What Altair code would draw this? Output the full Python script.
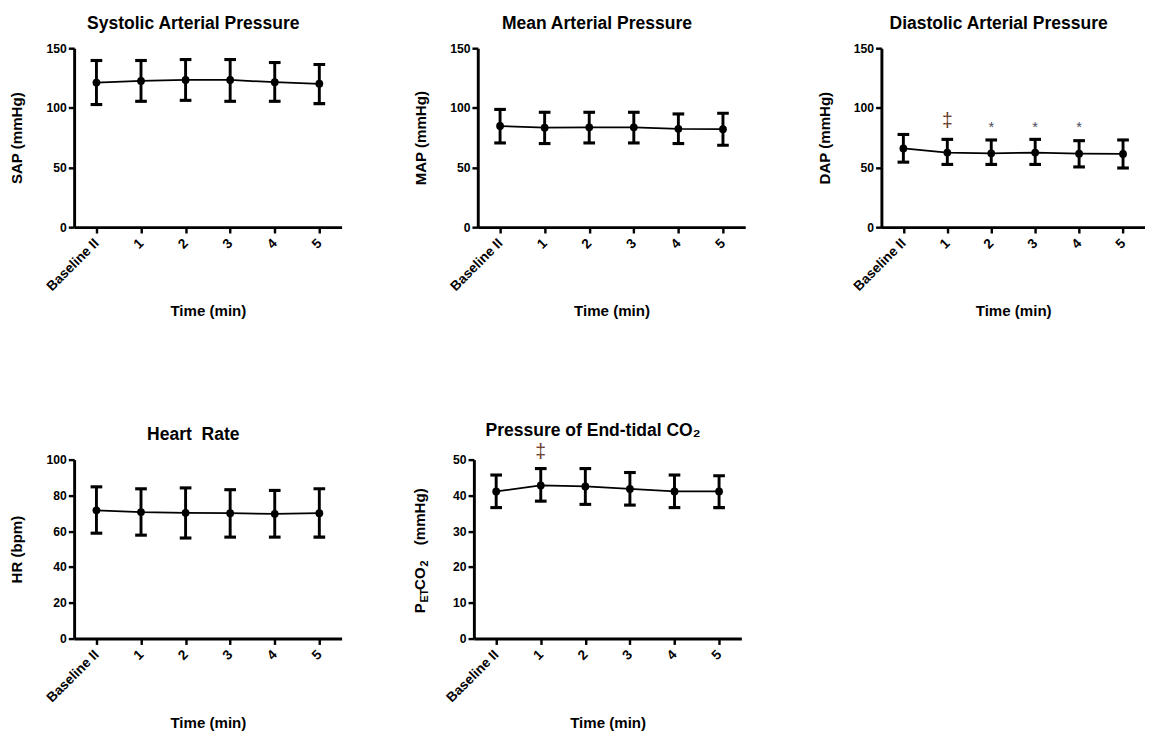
import altair as alt
import pandas as pd

TIME = ["Baseline II", "1", "2", "3", "4", "5"]

SAP_mean = [121.2, 122.6, 123.4, 123.4, 121.5, 120.2]
SAP_upper = [139.7, 139.7, 140.5, 140.5, 138.0, 136.4]
SAP_lower = [102.8, 105.5, 106.3, 105.5, 105.5, 103.6]

MAP_mean = [84.8, 83.4, 83.7, 83.7, 82.4, 82.1]
MAP_upper = [98.7, 96.3, 96.3, 96.3, 94.9, 95.5]
MAP_lower = [70.6, 70.1, 70.6, 70.6, 70.1, 68.7]

DAP_mean = [66.0, 62.5, 61.9, 62.5, 61.6, 61.4]
DAP_upper = [77.7, 73.6, 73.1, 73.6, 72.5, 73.1]
DAP_lower = [54.5, 52.6, 52.6, 52.6, 50.5, 49.6]
DAP_dagger = ["", "\u2021", "", "", "", ""]
DAP_dagger_y = [None, 88.5, None, None, None, None]
DAP_star = ["", "", "*", "*", "*", ""]
DAP_star_y = [None, None, 86.7, 86.7, 86.7, None]

HR_mean = [71.7, 70.7, 70.3, 70.1, 69.7, 70.1]
HR_upper = [84.8, 83.7, 84.2, 83.2, 82.8, 83.7]
HR_lower = [58.9, 57.8, 56.2, 56.7, 56.7, 56.7]

CO2_mean = [41.1, 42.8, 42.5, 41.8, 41.1, 41.1]
CO2_upper = [45.7, 47.5, 47.5, 46.4, 45.7, 45.5]
CO2_lower = [36.6, 38.4, 37.5, 37.3, 36.6, 36.6]
CO2_dagger = ["", "\u2021", "", "", "", ""]
CO2_dagger_y = [None, 52.2, None, None, None, None]

FONT = "Liberation Sans"


def panel(title, ytitle, mean, upper, lower, ymax, ystep, width=275, extra=None, title_offset=10):
    df = pd.DataFrame({"time": TIME, "mean": mean, "upper": upper, "lower": lower})
    base = alt.Chart(df)
    x = alt.X(
        "time:N",
        sort=TIME,
        scale=alt.Scale(type="point", padding=0.5),
        axis=alt.Axis(
            title="Time (min)",
            labelAngle=-45,
            labelAlign="right",
            labelBaseline="middle",
            labelFontSize=14,
            labelPadding=8,
            titlePadding=11,
        ),
    )
    yaxis_kwargs = dict(values=list(range(0, ymax + 1, ystep)), titlePadding=22, labelOverlap=False)
    if ytitle is None:
        yaxis_kwargs["title"] = None
    else:
        yaxis_kwargs["title"] = ytitle
    yax = alt.Axis(**yaxis_kwargs)
    ysc = alt.Scale(domain=[0, ymax], nice=False)

    rule = base.mark_rule(color="black", strokeWidth=3).encode(
        x=x, y=alt.Y("lower:Q", scale=ysc, axis=yax), y2="upper:Q"
    )
    cap_u = base.mark_tick(color="black", opacity=1, orient="horizontal", size=12, thickness=3.2).encode(
        x=x, y=alt.Y("upper:Q", scale=ysc, axis=yax)
    )
    cap_l = base.mark_tick(color="black", opacity=1, orient="horizontal", size=12, thickness=3.2).encode(
        x=x, y=alt.Y("lower:Q", scale=ysc, axis=yax)
    )
    line = base.mark_line(color="black", strokeWidth=1.8).encode(x=x, y=alt.Y("mean:Q", scale=ysc, axis=yax))
    pts = base.mark_circle(color="black", opacity=1, size=64).encode(
        x=x, y=alt.Y("mean:Q", scale=ysc, axis=yax)
    )
    layers = [line, rule, cap_u, cap_l, pts]
    if extra:
        layers += extra(x, ysc, yax)
    return alt.layer(*layers).properties(
        width=width,
        height=184,
        title=alt.TitleParams(
            title, dx=-15, offset=title_offset, fontSize=18, font=FONT, fontWeight="bold", color="black"
        ),
    )


def dap_extra(x, ysc, yax):
    d1 = pd.DataFrame({"time": TIME, "t": DAP_dagger, "v": DAP_dagger_y}).dropna()
    d2 = pd.DataFrame({"time": TIME, "t": DAP_star, "v": DAP_star_y}).dropna()
    dag = alt.Chart(d1).mark_text(font=FONT, fontSize=20, color="#6b3a2a", baseline="alphabetic", dy=6).encode(
        x=x, y=alt.Y("v:Q", scale=ysc, axis=yax), text="t:N"
    )
    star = alt.Chart(d2).mark_text(font=FONT, fontSize=15, color="#4a4a5a", baseline="alphabetic", dy=9).encode(
        x=x, y=alt.Y("v:Q", scale=ysc, axis=yax), text="t:N"
    )
    return [dag, star]


def co2_extra(x, ysc, yax):
    d1 = pd.DataFrame({"time": TIME, "t": CO2_dagger, "v": CO2_dagger_y}).dropna()
    dag = alt.Chart(d1).mark_text(font=FONT, fontSize=20, color="#6b3a2a", baseline="alphabetic", dy=6).encode(
        x=x, y=alt.Y("v:Q", scale=ysc, axis=yax), text="t:N"
    )
    parts = [
        ("P", 15.5, -55, 158),
        ("ET", 11, -50, 147),
        ("CO", 15.5, -55, 134),
        ("2", 11, -50, 110),
        ("(mmHg)", 15.5, -55, 88),
    ]
    out = [dag]
    for txt, fs, px, py in parts:
        out.append(
            alt.Chart(pd.DataFrame({"t": [txt]}))
            .mark_text(font=FONT, fontSize=fs, fontWeight="bold", angle=270, align="left", baseline="middle", color="black")
            .encode(text="t:N", x=alt.value(px), y=alt.value(py))
        )
    return out


p1 = panel("Systolic Arterial Pressure", "SAP (mmHg)", SAP_mean, SAP_upper, SAP_lower, 150, 50)
p2 = panel("Mean Arterial Pressure", "MAP (mmHg)", MAP_mean, MAP_upper, MAP_lower, 150, 50)
p3 = panel("Diastolic Arterial Pressure", "DAP (mmHg)", DAP_mean, DAP_upper, DAP_lower, 150, 50, width=271, extra=dap_extra)
p4 = panel("Heart\u00a0 Rate", "HR (bpm)", HR_mean, HR_upper, HR_lower, 100, 20)
p5 = panel("Pressure of End-tidal CO\u2082", None, CO2_mean, CO2_upper, CO2_lower, 50, 10, extra=co2_extra, title_offset=2)

row1 = alt.hconcat(p1, p2, p3, spacing=74)
row2 = alt.hconcat(p4, p5, spacing=74)
chart = (
    alt.vconcat(row1, row2, spacing=105)
    .properties(padding={"left": 2, "top": -3, "right": 0, "bottom": 2}, background="white")
    .configure_view(stroke=None)
    .configure_axis(
        grid=False,
        domainColor="black",
        domainWidth=3,
        tickColor="black",
        tickWidth=2.5,
        tickSize=6,
        labelFont=FONT,
        labelFontWeight="bold",
        labelFontSize=12.5,
        labelColor="black",
        labelOverlap=False,
        titleFont=FONT,
        titleFontWeight="bold",
        titleFontSize=15.5,
        titleColor="black",
    )
)

chart.save("out.html", embed_options={"renderer": "svg", "actions": False})
